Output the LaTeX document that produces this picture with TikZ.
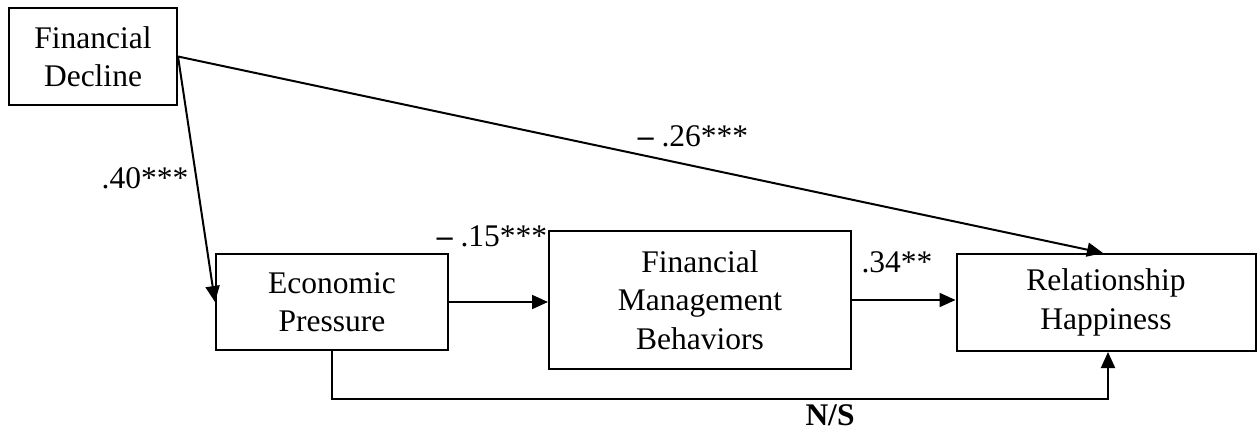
\documentclass[tikz,border=0pt]{standalone}
\usepackage{fontspec}
\setmainfont{Liberation Serif}
\usetikzlibrary{arrows.meta}
\begin{document}
\begin{tikzpicture}[x=1pt,y=-1pt,
  box/.style={draw, line width=2pt, inner sep=0pt, align=center,
    font=\fontsize{31.5}{38.5}\selectfont},
  lbl/.style={inner sep=0pt, font=\fontsize{31.5}{38}\selectfont},
  arr/.style={line width=2pt, -{Triangle[length=16pt,width=14pt]}},
  ln/.style={line width=2pt}]
\useasboundingbox (0,0) rectangle (1257,431);
\node[box, minimum width=168pt, minimum height=97pt] (fd) at (93,56.5) {Financial\\Decline};
\node[box, minimum width=232pt, minimum height=96pt] (ep) at (332,302) {Economic\\Pressure};
\node[box, minimum width=302pt, minimum height=138pt] (fmb) at (700,300) {Financial\\Management\\Behaviors};
\node[box, minimum width=299pt, minimum height=97pt] (rh) at (1106,302.5) {Relationship\\Happiness};
\draw[arr] (fd.east) -- (ep.west);
\draw[arr] (fd.east) -- ([xshift=-3pt]rh.north);
\draw[arr] (ep.east) -- (ep.east -| fmb.west);
\draw[arr] (fmb.east) -- (fmb.east -| rh.west);
\draw[arr] (ep.south) -- ++(0,48) -| ([xshift=2pt]rh.south);
\node[lbl] (l40) at (145,178) {.40***};
\node[lbl] (l15) at (492,236) {\textbf{–} .15***};
\node[lbl] (l34) at (897,262) {.34**};
\node[lbl] (l26) at (693,136) {\textbf{–} .26***};
\node[lbl, font=\fontsize{31.5}{38}\selectfont\bfseries] (lns) at (830,415) {N/S};
\end{tikzpicture}
\end{document}
